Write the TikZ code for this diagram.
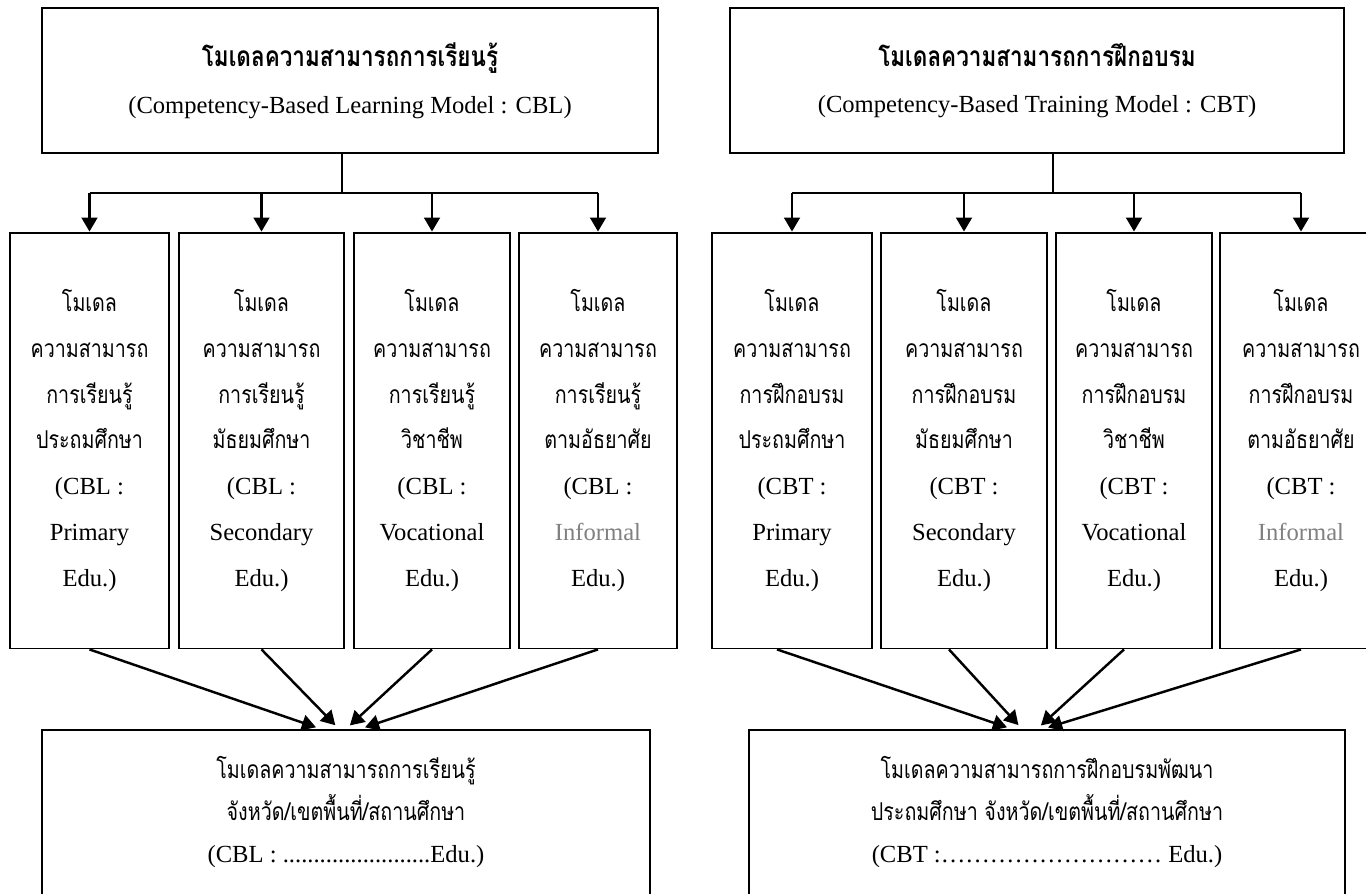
\documentclass[tikz,border=0pt]{standalone}
\usepackage{fontspec}
\setmainfont{Liberation Serif}
\newfontfamily\thaifont[Script=Thai,FakeStretch=0.8]{Loma}
\newcommand{\thai}[1]{{\thaifont #1}}
\newcommand{\thaititle}[1]{{\thaifont\bfseries\fontsize{16}{26.5}\selectfont #1}}
\usetikzlibrary{arrows.meta}
\tikzset{
  modelbox/.style={draw,line width=1.1pt,minimum height=2.9cm,align=center,
    font=\fontsize{14}{26.5}\selectfont},
  levelbox/.style={draw,line width=1.1pt,minimum height=8.32cm,inner sep=0pt,align=center,
    font=\fontsize{14}{26}\selectfont},
  areabox/.style={draw,line width=1.1pt,anchor=north,inner xsep=0pt,inner ysep=15pt,
    font=\fontsize{14}{24}\selectfont},
  bus/.style={line width=0.8pt},
  feed/.style={line width=1.4pt,-{Triangle[length=8pt,width=9pt]}},
}
\begin{document}
\begin{tikzpicture}[x=0.02cm,y=-0.02cm]
  \useasboundingbox (0,0) rectangle (1366,893);
  \clip (0,0) rectangle (1366,893);
  % learning model (left)
  \node[modelbox,minimum width=12.32cm] (cbl) at (350,80.5)
    {\thaititle{โมเดลความสามารถการเรียนรู้}\\(Competency-Based Learning Model : CBL)};
  \node[levelbox,minimum width=3.18cm] (cbla) at (89.5,440.5)
    {\thai{โมเดล}\\\thai{ความสามารถ}\\\thai{การเรียนรู้}\\\thai{ประถมศึกษา}\\(CBL :\\Primary\\Edu.)};
  \node[levelbox,minimum width=3.3cm] (cblb) at (261.5,440.5)
    {\thai{โมเดล}\\\thai{ความสามารถ}\\\thai{การเรียนรู้}\\\thai{มัธยมศึกษา}\\(CBL :\\Secondary\\Edu.)};
  \node[levelbox,minimum width=3.12cm] (cblc) at (432,440.5)
    {\thai{โมเดล}\\\thai{ความสามารถ}\\\thai{การเรียนรู้}\\\thai{วิชาชีพ}\\(CBL :\\Vocational\\Edu.)};
  \node[levelbox,minimum width=3.16cm] (cbld) at (598,440.5)
    {\thai{โมเดล}\\\thai{ความสามารถ}\\\thai{การเรียนรู้}\\\thai{ตามอัธยาศัย}\\(CBL :\\\textcolor{gray}{Informal}\\Edu.)};
  \node[areabox] (cblout) at (346,729)
    {\parbox[t][4cm][t]{12.16cm}{\centering\thai{โมเดลความสามารถการเรียนรู้}\\
      \thai{จังหวัด/เขตพื้นที่/สถานศึกษา}\\(CBL : ........................Edu.)}};
  \coordinate (cblbus) at (342,193);
  \draw[bus] (cbl.south -| cblbus) -- (cblbus);
  \draw[bus] (cblbus -| cbla.north) -- (cblbus -| cbld.north);
  \foreach \n in {cbla,cblb,cblc,cbld}
    \draw[feed] (cblbus -| \n.north) -- (\n.north);
  \draw[feed,shorten >=3pt] (cbla.south) -- ([xshift=-0.5cm]cblout.north);
  \draw[feed,shorten >=3pt] (cblb.south) -- ([xshift=-0.14cm]cblout.north);
  \draw[feed,shorten >=3pt] (cblc.south) -- ([xshift=0cm]cblout.north);
  \draw[feed,shorten >=3pt] (cbld.south) -- ([xshift=0.28cm]cblout.north);
  % training model (right)
  \node[modelbox,minimum width=12.28cm] (cbt) at (1037,80.5)
    {\thaititle{โมเดลความสามารถการฝึกอบรม}\\(Competency-Based Training Model : CBT)};
  \node[levelbox,minimum width=3.2cm] (cbta) at (792,440.5)
    {\thai{โมเดล}\\\thai{ความสามารถ}\\\thai{การฝึกอบรม}\\\thai{ประถมศึกษา}\\(CBT :\\Primary\\Edu.)};
  \node[levelbox,minimum width=3.32cm] (cbtb) at (964,440.5)
    {\thai{โมเดล}\\\thai{ความสามารถ}\\\thai{การฝึกอบรม}\\\thai{มัธยมศึกษา}\\(CBT :\\Secondary\\Edu.)};
  \node[levelbox,minimum width=3.12cm] (cbtc) at (1134,440.5)
    {\thai{โมเดล}\\\thai{ความสามารถ}\\\thai{การฝึกอบรม}\\\thai{วิชาชีพ}\\(CBT :\\Vocational\\Edu.)};
  \node[levelbox,minimum width=3.24cm] (cbtd) at (1301,440.5)
    {\thai{โมเดล}\\\thai{ความสามารถ}\\\thai{การฝึกอบรม}\\\thai{ตามอัธยาศัย}\\(CBT :\\\textcolor{gray}{Informal}\\Edu.)};
  \node[areabox] (cbtout) at (1047,729)
    {\parbox[t][4cm][t]{11.92cm}{\centering\thai{โมเดลความสามารถการฝึกอบรมพัฒนา}\\
      \thai{ประถมศึกษา จังหวัด/เขตพื้นที่/สถานศึกษา}\\(CBT :………………………\ Edu.)}};
  \coordinate (cbtbus) at (1053,193);
  \draw[bus] (cbt.south -| cbtbus) -- (cbtbus);
  \draw[bus] (cbtbus -| cbta.north) -- (cbtbus -| cbtd.north);
  \foreach \n in {cbta,cbtb,cbtc,cbtd}
    \draw[feed] (cbtbus -| \n.north) -- (\n.north);
  \draw[feed,shorten >=3pt] ([xshift=-0.3cm]cbta.south) -- ([xshift=-0.7cm]cbtout.north);
  \draw[feed,shorten >=3pt] ([xshift=-0.3cm]cbtb.south) -- ([xshift=-0.5cm]cbtout.north);
  \draw[feed,shorten >=3pt] ([xshift=-0.2cm]cbtc.south) -- ([xshift=-0.2cm]cbtout.north);
  \draw[feed,shorten >=3pt] (cbtd.south) -- ([xshift=-0.08cm]cbtout.north);
\end{tikzpicture}
\end{document}
